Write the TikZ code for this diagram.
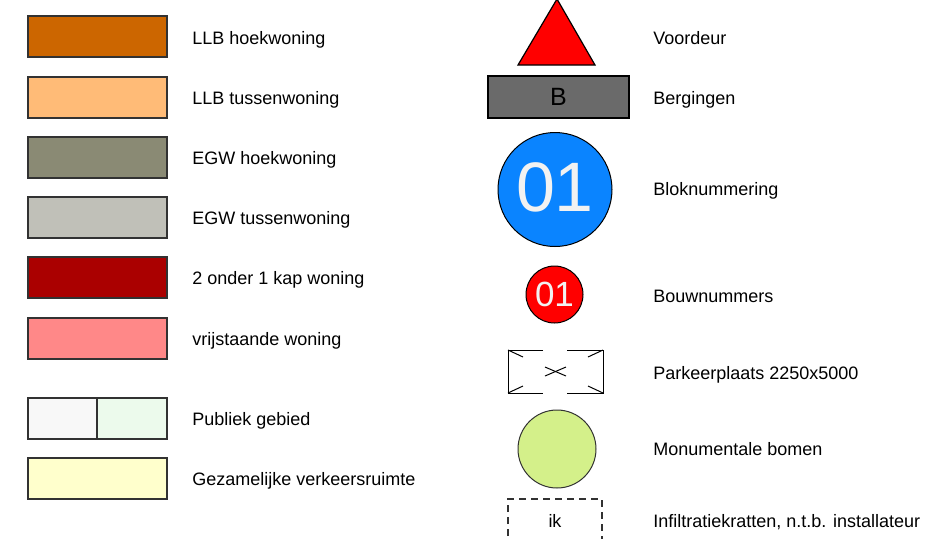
\documentclass[tikz,border=0pt]{standalone}
\usepackage{fontspec}
\setmainfont{Liberation Sans}
\usepackage{xcolor}
\usetikzlibrary{positioning}
\definecolor{llbhoek}{RGB}{204,102,0}
\definecolor{llbtussen}{RGB}{255,187,119}
\definecolor{egwhoek}{RGB}{138,138,116}
\definecolor{egwtussen}{RGB}{192,192,184}
\definecolor{kapwoning}{RGB}{170,0,0}
\definecolor{vrijstaand}{RGB}{255,136,136}
\definecolor{publiekgrijs}{RGB}{248,248,248}
\definecolor{publiekgroen}{RGB}{236,250,236}
\definecolor{verkeer}{RGB}{255,255,204}
\definecolor{berging}{RGB}{106,106,106}
\definecolor{blokblauw}{RGB}{10,132,255}
\definecolor{boomgroen}{RGB}{212,240,138}
\definecolor{randgrijs}{RGB}{50,50,50}

\tikzset{
  swatch/.style={draw=randgrijs, line width=0.7pt},
  legendlabel/.style={anchor=base west, inner sep=0pt, font=\fontsize{9}{11}\selectfont},
  thinline/.style={draw=black, line width=0.5pt},
}

\begin{document}
\begin{tikzpicture}[x=0.5pt,y=-0.5pt]
    \useasboundingbox (0,0) rectangle (950,538);
    % Left column: house types
    \filldraw[swatch, fill=llbhoek] (28,16) rectangle (167,57);
    \filldraw[swatch, fill=llbtussen] (28,77) rectangle (167,118);
    \filldraw[swatch, fill=egwhoek] (28,137) rectangle (167,178);
    \filldraw[swatch, fill=egwtussen] (28,197) rectangle (167,238);
    \filldraw[swatch, fill=kapwoning] (28,257) rectangle (167,298);
    \filldraw[swatch, fill=vrijstaand] (28,318) rectangle (167,359);
    % Public area (two halves)
    \fill[publiekgrijs] (28,398) rectangle (97,439);
    \fill[publiekgroen] (97,398) rectangle (167,439);
    \draw[swatch] (28,398) rectangle (167,439);
    \draw[swatch] (97,398) -- (97,439);
    \filldraw[swatch, fill=verkeer] (28,458) rectangle (167,499);
    % Left labels
    \node[legendlabel] (lblllbhoek) at (192,44) {LLB hoekwoning};
    \node[legendlabel] (lblllbtussen) at (192,104) {LLB tussenwoning};
    \node[legendlabel] (lblegwhoek) at (192,164) {EGW hoekwoning};
    \node[legendlabel] (lblegwtussen) at (192,224) {EGW tussenwoning};
    \node[legendlabel] (lblkap) at (192,284) {2 onder 1 kap woning};
    \node[legendlabel] (lblvrij) at (192,345) {vrijstaande woning};
    \node[legendlabel] (lblpubliek) at (192,425) {Publiek gebied};
    \node[legendlabel] (lblverkeer) at (192,485) {Gezamelijke verkeersruimte};
    % Right column: symbols
    % Front door
    \filldraw[fill=red, draw=black, line width=0.6pt] (557,-1) -- (518,65) -- (595,65) -- cycle;
    % Storage
    \filldraw[fill=berging, draw=black, line width=0.7pt] (488,76) rectangle (629,118);
    \node[inner sep=0pt, font=\fontsize{12.5}{14}\selectfont] (txtberging) at (558.5,96.5) {B};
    % Block number
    \filldraw[fill=blokblauw, draw=black, line width=0.5pt] (555,189.5) circle (57);
    \node[inner sep=0pt, text=black!5, font=\fontsize{35}{40}\selectfont] (txtblok) at (555,187) {01};
    % Building number
    \filldraw[fill=red, draw=black, line width=0.5pt] (554.5,294.5) circle (28.5);
    \node[inner sep=0pt, text=black!5, font=\fontsize{17.5}{20}\selectfont] (txtbouw) at (554.5,294.5) {01};
    % Parking spot
    \draw[thinline] (543,350) -- (508,350) -- (508,393) -- (543,393);
    \draw[thinline] (567,350) -- (603,350) -- (603,393) -- (567,393);
    \draw[thinline] (508,350) -- (523,357);
    \draw[thinline] (508,393) -- (523,386);
    \draw[thinline] (603,350) -- (588,357);
    \draw[thinline] (603,393) -- (588,386);
    \draw[thinline] (545,367) -- (566,376);
    \draw[thinline] (545,376) -- (566,367);
    % Monumental trees
    \filldraw[fill=boomgroen, draw=randgrijs, line width=0.5pt] (557,449) circle (39);
    % Infiltration crates
    \draw[draw=randgrijs, line width=0.6pt, dash pattern=on 3.5pt off 2.5pt] (508,548) -- (508,499) -- (602,499) -- (602,548);
    \node[inner sep=0pt, font=\fontsize{9}{11}\selectfont] (txtik) at (555,521) {ik};
    % Right labels
    \node[legendlabel] (lblvoordeur) at (653,44) {Voordeur};
    \node[legendlabel] (lblbergingen) at (653,104) {Bergingen};
    \node[legendlabel] (lblblok) at (653,195) {Bloknummering};
    \node[legendlabel] (lblbouw) at (653,302) {Bouwnummers};
    \node[legendlabel] (lblparkeer) at (653,379) {Parkeerplaats 2250x5000};
    \node[legendlabel] (lblbomen) at (653,455) {Monumentale bomen};
    \node[legendlabel] (lblinfiltratie) at (653,527) {Infiltratiekratten, n.t.b. installateur};
\end{tikzpicture}
\end{document}
